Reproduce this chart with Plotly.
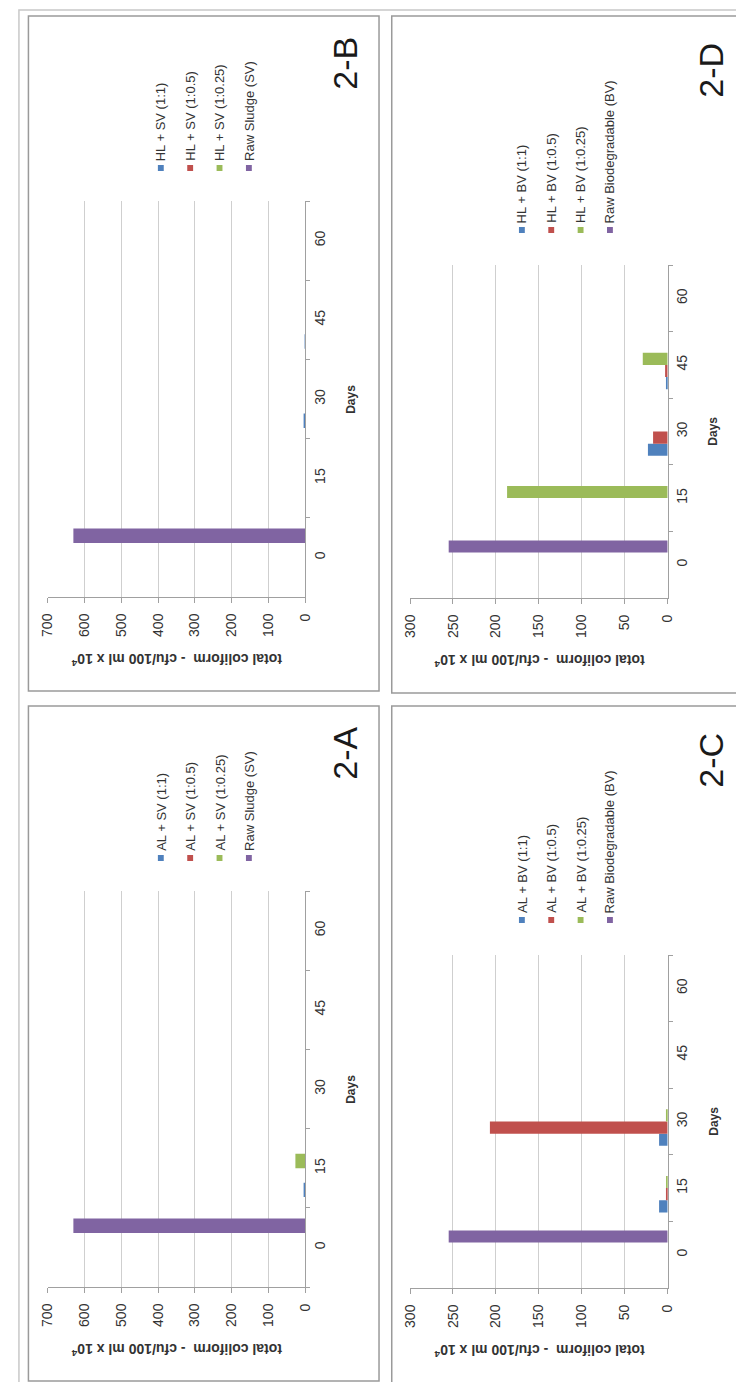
import plotly.graph_objects as go

W, H = 744, 1382
def X(px): return px / W
def Y(py): return 1 - py / H

days = ["0", "15", "30", "45", "60"]
colors = ["#4F81BD", "#C0504D", "#9BBB59", "#8064A2"]

# Panel 2-A : AL + SV
a_names = ["AL + SV (1:1)", "AL + SV (1:0.5)", "AL + SV (1:0.25)", "Raw Sludge (SV)"]
a_11 = [0, 3, 0, 0, 0]
a_105 = [0, 0, 0, 0, 0]
a_1025 = [0, 27, 0, 0, 0]
a_raw = [630, 0, 0, 0, 0]

# Panel 2-B : HL + SV
b_names = ["HL + SV (1:1)", "HL + SV (1:0.5)", "HL + SV (1:0.25)", "Raw Sludge (SV)"]
b_11 = [0, 0, 3, 2, 0]
b_105 = [0, 0, 0, 0, 0]
b_1025 = [0, 0, 0, 0, 0]
b_raw = [630, 0, 0, 0, 0]

# Panel 2-C : AL + BV
c_names = ["AL + BV (1:1)", "AL + BV (1:0.5)", "AL + BV (1:0.25)", "Raw Biodegradable (BV)"]
c_11 = [0, 10, 10, 0, 0]
c_105 = [0, 2, 207, 0, 0]
c_1025 = [0, 1.5, 2, 0, 0]
c_raw = [255, 0, 0, 0, 0]

# Panel 2-D : HL + BV
d_names = ["HL + BV (1:1)", "HL + BV (1:0.5)", "HL + BV (1:0.25)", "Raw Biodegradable (BV)"]
d_11 = [0, 0, 23, 2, 0]
d_105 = [0, 0, 17, 3, 0]
d_1025 = [0, 187, 0, 29, 0]
d_raw = [255, 0, 0, 0, 0]

value_ticks_sv = [0, 100, 200, 300, 400, 500, 600, 700]
value_ticks_bv = [0, 50, 100, 150, 200, 250, 300]

FONT = "Liberation Sans, Arial, sans-serif"
TXT = "#333333"

# layout geometry per panel (pixels)
panels = [
    dict(label="2-A", names=a_names, series=[a_11, a_105, a_1025, a_raw], ticks=value_ticks_sv, vmax=700,
         px=(32.3, 295.7), py=(883, 1279), box=(12.7, 698, 371, 1373), leg_x=148, leg_y=850,
         lab=(336, 745)),
    dict(label="2-B", names=b_names, series=[b_11, b_105, b_1025, b_raw], ticks=value_ticks_sv, vmax=700,
         px=(32.3, 295.7), py=(193, 589), box=(12.7, 8, 371, 683), leg_x=148, leg_y=160,
         lab=(336, 55)),
    dict(label="2-C", names=c_names, series=[c_11, c_105, c_1025, c_raw], ticks=value_ticks_bv, vmax=300,
         px=(402.7, 666), py=(947, 1280), box=(384, 698, 740, 1375), leg_x=517, leg_y=912,
         lab=(710, 752)),
    dict(label="2-D", names=d_names, series=[d_11, d_105, d_1025, d_raw], ticks=value_ticks_bv, vmax=300,
         px=(402.7, 666), py=(257, 590), box=(384, 8, 740, 685), leg_x=517, leg_y=222,
         lab=(710, 62)),
]

fig = go.Figure()
shapes = []
annotations = []
layout = dict(width=W, height=H, margin=dict(l=0, r=0, t=0, b=0),
              paper_bgcolor="white", plot_bgcolor="white", showlegend=False,
              barmode="group", bargap=0.27, bargroupgap=0,
              font=dict(family=FONT, color=TXT))

# outer frame
shapes.append(dict(type="rect", xref="paper", yref="paper", x0=X(3), x1=X(741), y0=Y(2), y1=Y(1379),
                   line=dict(color="#C8C8C8", width=1.5)))

for i, p in enumerate(panels):
    k = "" if i == 0 else str(i + 1)
    xa, ya = "x" + k, "y" + k
    for j in range(4):
        fig.add_trace(go.Bar(x=p["series"][j], y=days, orientation="h", name=p["names"][j],
                             marker=dict(color=colors[j], line=dict(width=0)),
                             xaxis=xa, yaxis=ya))
    layout["xaxis" + k] = dict(domain=[X(p["px"][0]), X(p["px"][1])], anchor=ya,
                               range=[p["vmax"], 0], tickvals=p["ticks"], showgrid=True,
                               gridcolor="#CFCFCF", gridwidth=1, zeroline=False,
                               showline=True, linecolor="#A0A0A0", linewidth=1,
                               ticks="outside", ticklen=5, tickcolor="#A0A0A0",
                               tickangle=-90, ticklabelstandoff=5,
                               tickfont=dict(size=14, color=TXT, family=FONT), fixedrange=True)
    layout["yaxis" + k] = dict(domain=[Y(p["py"][1]), Y(p["py"][0])], anchor=xa, side="right",
                               type="category", categoryorder="array", categoryarray=days,
                               range=[-0.5, 4.5], tickson="boundaries", showgrid=False,
                               zeroline=False, showline=True, linecolor="#A0A0A0", linewidth=1,
                               ticks="outside", ticklen=4, tickcolor="#A0A0A0",
                               tickangle=-90, ticklabelstandoff=2,
                               tickfont=dict(size=14, color=TXT, family=FONT), fixedrange=True)
    # panel box
    bx0, by0, bx1, by1 = p["box"]
    shapes.append(dict(type="rect", xref="paper", yref="paper", x0=X(bx0), x1=X(bx1), y0=Y(by1), y1=Y(by0),
                       line=dict(color="#9A9A9A", width=1.5)))
    # legend
    for j in range(4):
        sx = p["leg_x"] + 30 * j
        sy = p["leg_y"]
        shapes.append(dict(type="rect", xref="paper", yref="paper", x0=X(sx - 3), x1=X(sx + 3),
                           y0=Y(sy + 3), y1=Y(sy - 3), fillcolor=colors[j], line=dict(width=0)))
        annotations.append(dict(xref="paper", yref="paper", x=X(sx), y=Y(sy - 5), text=p["names"][j],
                                showarrow=False, textangle=-90, xanchor="center", yanchor="bottom",
                                font=dict(size=13, color=TXT, family=FONT)))
    # panel label
    annotations.append(dict(xref="paper", yref="paper", x=X(p["lab"][0]), y=Y(p["lab"][1]), text=p["label"],
                            showarrow=False, textangle=-90, xanchor="center", yanchor="middle",
                            font=dict(size=34, color="#1a1a1a", family=FONT)))
    # Days title
    cx = p["px"][1] + 46.5
    cy = (p["py"][0] + p["py"][1]) / 2
    annotations.append(dict(xref="paper", yref="paper", x=X(cx), y=Y(cy), text="<b>Days</b>",
                            showarrow=False, textangle=-90, xanchor="center", yanchor="middle",
                            font=dict(size=12, color=TXT, family=FONT)))
    # value axis title (upside down)
    tx = (p["px"][0] + p["px"][1]) / 2
    ty = p["py"][1] + 63
    annotations.append(dict(xref="paper", yref="paper", x=X(tx), y=Y(ty),
                            text="<b>total coliform  - cfu/100 ml x 10<sup>4</sup></b>",
                            showarrow=False, textangle=180, xanchor="center", yanchor="middle",
                            font=dict(size=14, color=TXT, family=FONT)))

layout["shapes"] = shapes
layout["annotations"] = annotations
fig.update_layout(**layout)
fig.write_html("out.html")
